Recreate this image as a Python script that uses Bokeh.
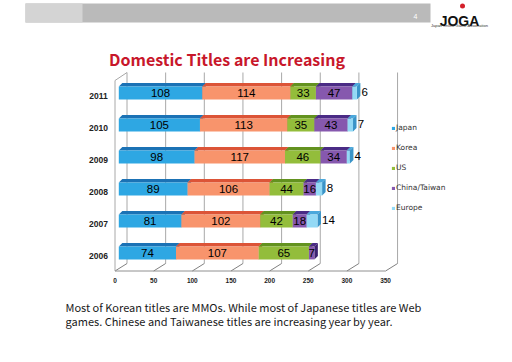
import numpy as np
from bokeh.plotting import figure
from bokeh.models import Range1d, ColumnDataSource, Legend, LegendItem
from bokeh.core.properties import value
from bokeh.embed import file_html
from bokeh.resources import INLINE

# ---------------- data ----------------
years = ["2006", "2007", "2008", "2009", "2010", "2011"]
series = ["Japan", "Korea", "US", "China/Taiwan", "Europe"]
japan = [74, 81, 89, 98, 105, 108]
korea = [107, 102, 106, 117, 113, 114]
us = [65, 42, 44, 46, 35, 33]
china = [7, 18, 16, 34, 43, 47]
europe = [0, 14, 8, 4, 7, 6]
x_ticks = [0, 50, 100, 150, 200, 250, 300, 350]

title_text = "Domestic Titles are Increasing"
footer_lines = [
    "Most of Korean titles are MMOs. While most of Japanese titles are Web",
    "games. Chinese and Taiwanese titles are increasing year by year.",
]

front_colors = ["#2ea7e3", "#f8946c", "#93bd3b", "#8658ae", "#93d9f5"]
top_colors = ["#1b72b5", "#dc5437", "#63921f", "#4a2b85", "#4aa8dc"]
side_colors = ["#17659f", "#c24a30", "#56801a", "#3d2270", "#3a94c8"]

# ---------------- geometry (page pixel mapping) ----------------
W, H = 496, 346
SX, SY = 0.773, 32.0          # px per title, px per category
X0, Y0 = 118.3, 252.5         # page pixel of data (0, row 0)


def x_of(px):
    return (px - X0) / SX


def y_of(py):
    return (Y0 - py) / SY


p = figure(width=W, height=H,
           x_range=Range1d(x_of(0), x_of(W)),
           y_range=Range1d(y_of(H), y_of(0)),
           output_backend="svg", toolbar_location=None,
           x_axis_location=None, y_axis_location=None,
           min_border=0, outline_line_color=None,
           background_fill_color="white", border_fill_color="white")
p.grid.visible = False
p.extra_x_ranges = {"px": Range1d(0, W)}
p.extra_y_ranges = {"px": Range1d(H, 0)}

# ---------------- header / logo ----------------
p.quad(left=[25], right=[430], top=[3], bottom=[22], x_range_name="px", y_range_name="px",
       fill_color="#bababa", line_color=None)
p.quad(left=[25], right=[82], top=[3], bottom=[22], x_range_name="px", y_range_name="px",
       fill_color="#d4d4d4", line_color=None)
p.text(x=[415], y=[16], text=["4"], x_range_name="px", y_range_name="px",
       text_font=value("Liberation Sans"), text_font_size="7px", text_color="white",
       text_align="center", text_baseline="alphabetic")
p.scatter(x=[462], y=[5.5], size=5, marker="circle", x_range_name="px", y_range_name="px",
          fill_color="#d4202a", line_color=None)
p.text(x=[459], y=[20], text=["JOGA"], x_range_name="px", y_range_name="px",
       text_font=value("Liberation Sans"), text_font_size="14px", text_font_style="bold",
       text_color="#111111", text_align="center", text_baseline="alphabetic")
p.text(x=[459], y=[25], text=["Japan Online Game Association"], x_range_name="px", y_range_name="px",
       text_font=value("Liberation Sans"), text_font_size="4px",
       text_color="#333333", text_align="center", text_baseline="alphabetic")

# ---------------- title ----------------
p.text(x=[226.5], y=[58.5], text=[title_text], x_range_name="px", y_range_name="px",
       text_font=value("Noto Sans CJK JP"), text_font_size="16px", text_font_style="bold",
       text_color="#c8172b", text_align="center", text_baseline="alphabetic")

# ---------------- 3D walls / floor / grid ----------------
fx, fy = x_of(114.5), y_of(270.5)      # front-floor origin
dxw, dyw = 12 / SX, 7.5 / SY            # wall depth offset
top_back = y_of(72)
top_front = y_of(80)
grid_col = "#a8a8a8"
tick_arr = np.array(x_ticks, dtype=float)

# back wall verticals
p.segment(x0=list(fx + dxw + tick_arr), y0=[fy + dyw] * len(x_ticks),
          x1=list(fx + dxw + tick_arr), y1=[top_back] * len(x_ticks),
          line_color=grid_col, line_width=1)
# floor diagonals
p.segment(x0=list(fx + tick_arr), y0=[fy] * len(x_ticks),
          x1=list(fx + dxw + tick_arr), y1=[fy + dyw] * len(x_ticks),
          line_color="#808080", line_width=1)
# floor front edge
p.segment(x0=[fx], y0=[fy], x1=[fx + x_ticks[-1]], y1=[fy], line_color="#909090", line_width=1)
# left wall front edge and top
p.segment(x0=[fx, fx], y0=[fy, top_front], x1=[fx, fx + dxw], y1=[top_front, top_back],
          line_color=grid_col, line_width=1)

# ---------------- bars ----------------
vals = [japan, korea, us, china, europe]
yc = np.arange(len(years), dtype=float)
h = 0.2
dxb, dyb = 3.5 / SX, 3.5 / SY
cum = np.zeros(len(years))
renderers = []
for k, v in enumerate(vals):
    v = np.array(v, dtype=float)
    left = cum.copy()
    right = cum + v
    m = v > 0
    txs, tys, sxs, sys_ = [], [], [], []
    for i in np.where(m)[0]:
        txs.append([left[i], right[i], right[i] + dxb, left[i] + dxb])
        tys.append([yc[i] + h, yc[i] + h, yc[i] + h + dyb, yc[i] + h + dyb])
        sxs.append([right[i], right[i] + dxb, right[i] + dxb, right[i]])
        sys_.append([yc[i] - h, yc[i] - h + dyb, yc[i] + h + dyb, yc[i] + h])
    p.patches(xs=txs, ys=tys, fill_color=top_colors[k], line_color=None)
    p.patches(xs=sxs, ys=sys_, fill_color=side_colors[k], line_color=None)
    src = ColumnDataSource(dict(y=yc[m], left=left[m], right=right[m]))
    r = p.hbar(y="y", left="left", right="right", height=2 * h, source=src,
               fill_color=front_colors[k], line_color=None)
    renderers.append(r)
    if k < 4:
        p.text(x=list((left + v / 2)[m]), y=list(yc[m] - 0.01), text=[str(int(a)) for a in v[m]],
               text_font=value("Liberation Sans"), text_font_size="11.5px", text_color="black",
               text_align="center", text_baseline="middle")
    else:
        p.text(x=list(right[m] + dxb + 1.5), y=list(yc[m] + 0.02), text=[str(int(a)) for a in v[m]],
               text_font=value("Liberation Sans"), text_font_size="11.5px", text_color="black",
               text_align="left", text_baseline="middle")
    cum = right

# ---------------- axis labels ----------------
p.text(x=[x_of(98)] * len(years), y=list(yc - 0.1), text=years,
       text_font=value("Liberation Sans"), text_font_size="8.5px", text_font_style="bold",
       text_color="#222222", text_align="center", text_baseline="middle")
p.text(x=list(fx + tick_arr), y=[y_of(280)] * len(x_ticks), text=[str(t) for t in x_ticks],
       text_font=value("Liberation Sans"), text_font_size="6.5px", text_font_style="bold",
       text_color="#222222", text_align="center", text_baseline="middle")

# ---------------- legend ----------------
legend = Legend(items=[LegendItem(label=s, renderers=[r]) for s, r in zip(series, renderers)],
                location=(391, 130), orientation="vertical",
                glyph_width=4, glyph_height=4, label_height=17, label_standoff=1,
                spacing=3, padding=0, margin=0, border_line_color=None,
                background_fill_alpha=0, label_text_font="DejaVu Sans",
                label_text_font_size="7.5px", label_text_color="#333333")
p.add_layout(legend)

# ---------------- footer ----------------
p.text(x=[65, 65], y=[306.5, 320.5], text=footer_lines, x_range_name="px", y_range_name="px",
       text_font=value("Noto Sans CJK JP"), text_font_size="11px",
       text_color="#1a1a1a", text_align="left", text_baseline="alphabetic")

open("out.html", "w").write(file_html(p, INLINE))
